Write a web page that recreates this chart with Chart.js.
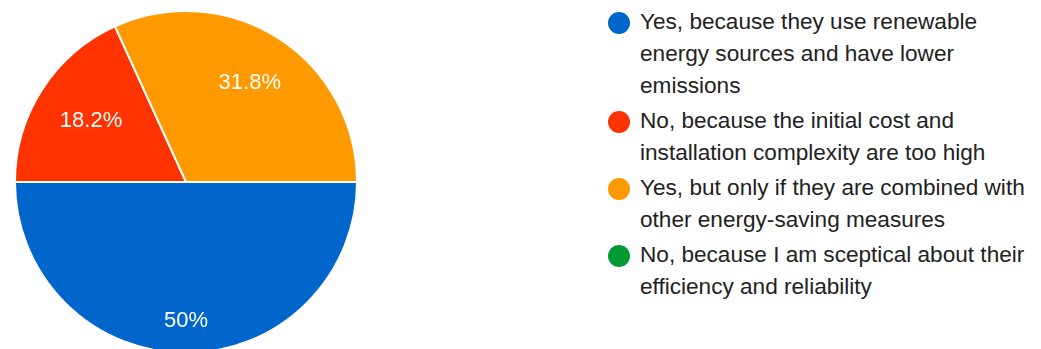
<!DOCTYPE html>
<html>
<head>
<meta charset="utf-8">
<script src="https://cdn.jsdelivr.net/npm/chart.js@4"></script>
<style>
  html, body { margin: 0; padding: 0; background: #fff; overflow: hidden; }
  body { width: 1041px; height: 349px; position: relative; font-family: "Liberation Sans", Arial, sans-serif; }
  #pieWrap { position: absolute; left: 0; top: 0; width: 372px; height: 364px; }
  #legend { position: absolute; left: 608px; top: 6px; width: 433px; list-style: none; margin: 0; padding: 0; }
  #legend li { position: relative; padding-left: 32px; font-size: 22.6px; line-height: 32px; color: #222; margin-bottom: 3px; width: 400px; }
  #legend li span { position: absolute; left: 0; top: 6px; width: 22px; height: 22px; border-radius: 50%; }
</style>
</head>
<body>
<div id="pieWrap"><canvas id="mycanvas"></canvas></div>
<ul id="legend"></ul>
<script>
var answers = [
	"Yes, because they use renewable energy sources and have lower emissions",
	"No, because the initial cost and installation complexity are too high",
	"Yes, but only if they are combined with other energy-saving measures",
	"No, because I am sceptical about their efficiency and reliability"
];
var responses = [11, 4, 7, 0];
var colours = ['#0066CC', '#FF3300', '#FF9900', '#009933'];
// how far out each percentage sits, as a share of the radius
var labelDist = [0.81, 0.66, 0.69, 0.7];

// legend built by hand so the long answers can wrap
var legend = document.getElementById('legend');
for (var i in answers) {
	var li = document.createElement('li');
	var dot = document.createElement('span');
	dot.style.background = colours[i];
	li.appendChild(dot);
	li.appendChild(document.createTextNode(answers[i]));
	legend.appendChild(li);
}

var pctLabels = {
	id: 'pctLabels',
	afterDatasetsDraw: function(chart) {
		var ctx = chart.ctx;
		var data = chart.data.datasets[0].data;
		var total = data.reduce(function(a, b) { return a + b; }, 0);
		ctx.save();
		ctx.fillStyle = '#fff';
		ctx.font = '22px "Liberation Sans", Arial, sans-serif';
		ctx.textAlign = 'center';
		ctx.textBaseline = 'middle';
		chart.getDatasetMeta(0).data.forEach(function(arc, i) {
			if (!data[i]) return;
			var p = arc.getProps(['x', 'y', 'startAngle', 'endAngle', 'outerRadius'], true);
			var mid = (p.startAngle + p.endAngle) / 2;
			var r = p.outerRadius * labelDist[i];
			var txt = (Math.round(data[i] / total * 1000) / 10) + '%';
			ctx.fillText(txt, p.x + Math.cos(mid) * r, p.y + Math.sin(mid) * r);
		});
		ctx.restore();
	}
};

var ctx = document.getElementById('mycanvas');
var pie = new Chart(ctx, {
	type: 'pie',
	data: {
		labels: answers,
		datasets: [{
			data: responses,
			backgroundColor: colours,
			borderColor: '#fff',
			borderWidth: 2
		}]
	},
	options: {
		responsive: true,
		maintainAspectRatio: false,
		animation: false,
		rotation: 90,
		layout: { padding: 10 },
		plugins: {
			legend: { display: false },
			tooltip: { enabled: false }
		}
	},
	plugins: [pctLabels]
});
</script>
</body>
</html>
